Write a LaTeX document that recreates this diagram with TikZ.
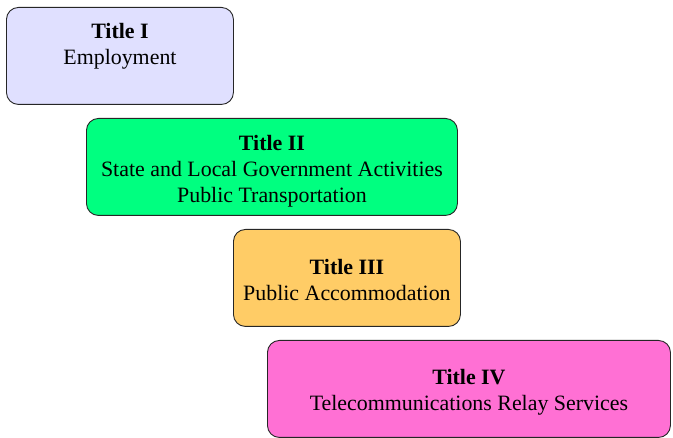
\documentclass[tikz,border=0pt]{standalone}
\usepackage{fontspec}
\setmainfont{Liberation Serif}
\begin{document}
\begin{tikzpicture}[x=1pt,y=-1pt,
  titlebox/.style={draw=black!85, line width=0.9pt, rounded corners=12pt, anchor=north west, inner sep=0pt},
  boxtext/.style={align=center, inner sep=0pt, font=\fontsize{21.9pt}{26.1pt}\selectfont}]
\useasboundingbox (0,0) rectangle (673,438);
\definecolor{lavender}{HTML}{E0E0FF}
\definecolor{springgreen}{HTML}{00FF80}
\definecolor{apricot}{HTML}{FFCC66}
\definecolor{orchid}{HTML}{FF70D4}
% title boxes, stepped from upper left to lower right
\node[titlebox, fill=lavender, minimum width=227pt, minimum height=97pt] (t1) at (6,7) {};
\node[titlebox, fill=springgreen, minimum width=371pt, minimum height=97pt] (t2) at (86,118) {};
\node[titlebox, fill=apricot, minimum width=227pt, minimum height=97pt] (t3) at (233,229) {};
\node[titlebox, fill=orchid, minimum width=403pt, minimum height=97pt] (t4) at (267,340) {};
% labels
\node[boxtext] (l1) at (t1.center |- 0,46.6) {\textbf{Title I}\\Employment};
\node[boxtext] (l2) at (t2.center |- 0,171.3) {\textbf{Title II}\\State and Local Government Activities\\Public Transportation};
\node[boxtext] (l3) at (t3.center |- 0,280.3) {\textbf{Title III}\\Public Accommodation};
\node[boxtext] (l4) at (t4.center |- 0,392.7) {\textbf{Title IV}\\Telecommunications Relay Services};
\end{tikzpicture}
\end{document}
